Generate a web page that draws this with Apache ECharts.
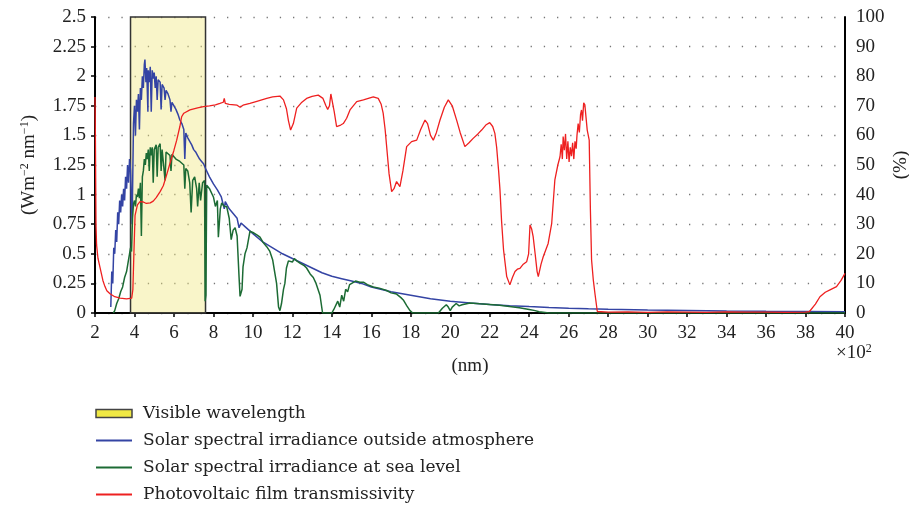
<!DOCTYPE html>
<html>
<head>
<meta charset="utf-8">
<script src="https://cdn.jsdelivr.net/npm/echarts@6/dist/echarts.min.js"></script>
<style>
    html, body { margin: 0; padding: 0; background: #fff; }
    #chart { width: 909px; height: 510px; }
</style>
</head>
<body>
<div id="chart"></div>
<script>
// wavelength in 10^2 nm
var visibleBand = [3.8, 7.6];

// solar spectral irradiance outside atmosphere (W m-2 nm-1)
var blueX = [2.8, 2.85, 2.9, 2.95, 3.0, 3.05, 3.1, 3.15, 3.2, 3.25, 3.3, 3.35, 3.4, 3.45, 3.5, 3.55, 3.6, 3.65, 3.7, 3.75, 3.8, 3.88,
    3.95, 4.0, 4.05, 4.1, 4.15, 4.2, 4.25, 4.3, 4.35, 4.4, 4.45, 4.5, 4.53, 4.58, 4.62, 4.68, 4.7, 4.75, 4.8, 4.85, 4.9, 4.95,
    5.0, 5.05, 5.1, 5.15, 5.2, 5.3, 5.35, 5.4, 5.5, 5.55, 5.6, 5.7, 5.8, 5.85, 5.9, 6.0, 6.1, 6.2, 6.3, 6.4, 6.5, 6.55, 6.6,
    6.7, 6.8, 6.9, 7.0, 7.1, 7.2, 7.3, 7.4, 7.5, 7.6, 7.8, 8.0, 8.2, 8.4, 8.55, 8.6, 8.8, 9.0, 9.2, 9.3, 9.4, 9.6, 9.8, 10.0,
    10.5, 11.0, 11.5, 12.0, 12.5, 13.0, 13.5, 14.0, 14.5, 15.0, 15.5, 16, 17, 18, 19, 20, 21, 22, 23, 24, 25, 26, 27, 28,
    30, 32, 34, 36, 38, 40];
var blueY = [0.05, 0.35, 0.25, 0.55, 0.5, 0.7, 0.6, 0.85, 0.75, 0.95, 0.85, 1.0, 0.9, 1.05, 0.95, 1.15, 1.05, 1.25, 1.1, 1.3, 1.2, 0.75,
    1.6, 1.75, 1.5, 1.8, 1.7, 1.85, 1.55, 1.9, 1.8, 2.0, 1.9, 2.1, 2.14, 1.95, 2.07, 1.7, 2.05, 1.95, 2.08, 1.7, 2.05, 1.98,
    2.03, 1.9, 2.0, 1.8, 1.97, 1.95, 1.72, 1.93, 1.9, 1.8, 1.88, 1.85, 1.8, 1.7, 1.78, 1.75, 1.72, 1.68, 1.63, 1.6, 1.55, 1.3, 1.52,
    1.48, 1.45, 1.42, 1.38, 1.36, 1.33, 1.3, 1.28, 1.26, 1.22, 1.15, 1.09, 1.04, 0.98, 0.88, 0.94, 0.88, 0.84, 0.8, 0.72, 0.76, 0.73, 0.7, 0.67,
    0.6, 0.55, 0.5, 0.46, 0.42, 0.38, 0.34, 0.31, 0.29, 0.27, 0.25, 0.22, 0.18, 0.15, 0.12, 0.1, 0.085, 0.072, 0.062, 0.054, 0.047, 0.041, 0.036, 0.032,
    0.026, 0.021, 0.017, 0.014, 0.012, 0.01];

// solar spectral irradiance at sea level (W m-2 nm-1)
var greenX = [2.93, 3.0, 3.1, 3.2, 3.3, 3.4, 3.5, 3.6, 3.7, 3.75, 3.8, 3.85, 3.9, 3.95, 4.0, 4.05, 4.1, 4.15, 4.2, 4.25, 4.3, 4.35,
    4.4, 4.45, 4.5, 4.55, 4.6, 4.65, 4.7, 4.75, 4.8, 4.85, 4.9, 4.95, 5.0, 5.1, 5.15, 5.2, 5.3, 5.35, 5.4, 5.5, 5.55, 5.6, 5.7,
    5.8, 5.85, 5.9, 6.0, 6.1, 6.2, 6.3, 6.4, 6.5, 6.55, 6.6, 6.7, 6.8, 6.87, 6.95, 7.05, 7.15, 7.2, 7.28, 7.35, 7.45, 7.55, 7.58,
    7.62, 7.66, 7.8, 8.0, 8.1, 8.2, 8.25, 8.35, 8.42, 8.55, 8.67, 8.8, 8.9, 9.0, 9.1, 9.2, 9.3, 9.35, 9.45, 9.5, 9.6, 9.7, 9.85,
    10.0, 10.2, 10.36, 10.5, 10.7, 10.86, 11.0, 11.1, 11.2, 11.3, 11.37, 11.45, 11.55, 11.62, 11.7, 11.8, 12.0, 12.1, 12.22, 12.4,
    12.6, 12.72, 12.9, 13.06, 13.2, 13.4, 13.53, 14.0, 14.1, 14.2, 14.3, 14.4, 14.5, 14.6, 14.7, 14.8, 14.9, 15.0, 15.2, 15.42,
    15.6, 15.8, 16.1, 16.4, 16.78, 17.0, 17.28, 17.5, 17.62, 17.8, 17.96, 18.1, 19.4, 19.6, 19.8, 19.9, 20.0, 20.1, 20.3, 20.45,
    20.6, 21.0, 21.5, 22.0, 22.5, 23.0, 23.5, 24.0, 24.3, 24.5, 25.0, 40];
var greenY = [0, 0.02, 0.08, 0.12, 0.18, 0.22, 0.3, 0.35, 0.45, 0.5, 0.55, 0.52, 0.8, 0.92, 0.95, 0.9, 1.0, 0.98, 1.05, 0.97, 1.1, 0.65,
    1.15, 1.2, 1.3, 1.25, 1.35, 1.3, 1.38, 1.2, 1.4, 1.33, 1.4, 1.1, 1.38, 1.42, 1.15, 1.4, 1.43, 1.2, 1.38, 1.37, 1.12, 1.36, 1.35,
    1.33, 1.2, 1.34, 1.32, 1.3, 1.3, 1.28, 1.27, 1.25, 1.05, 1.22, 1.2, 1.1, 0.85, 1.12, 1.15, 1.05, 0.9, 1.1, 0.95, 1.1, 1.12, 0.1,
    0.15, 1.08, 1.05, 0.98, 0.9, 0.95, 0.64, 0.88, 0.93, 0.9, 0.9, 0.8, 0.62, 0.7, 0.72, 0.65, 0.3, 0.14, 0.2, 0.39, 0.5, 0.55, 0.69,
    0.68, 0.66, 0.64, 0.6, 0.56, 0.52, 0.45, 0.35, 0.25, 0.05, 0.02, 0.08, 0.2, 0.25, 0.38, 0.44, 0.43, 0.46, 0.44, 0.42,
    0.4, 0.38, 0.33, 0.3, 0.25, 0.15, 0, 0, 0.03, 0.02, 0.1, 0.05, 0.15, 0.1, 0.2, 0.18, 0.24, 0.25, 0.27, 0.26,
    0.26, 0.24, 0.22, 0.21, 0.19, 0.17, 0.16, 0.13, 0.11, 0.06, 0.02, 0, 0, 0.04, 0.07, 0.05, 0.02, 0.05, 0.08, 0.06,
    0.07, 0.085, 0.078, 0.072, 0.065, 0.055, 0.045, 0.03, 0.02, 0.01, 0, 0];

// photovoltaic film transmissivity (%)
var redX = [2.0, 2.02, 2.05, 2.08, 2.15, 2.25, 2.4, 2.5, 2.6, 2.76, 3.0, 3.27, 3.6, 3.86, 3.92, 3.97, 4.03, 4.15, 4.28, 4.45, 4.6,
    4.8, 4.95, 5.1, 5.3, 5.46, 5.6, 5.8, 6.0, 6.14, 6.3, 6.39, 6.5, 6.81, 7.2, 7.49, 7.8, 8.1, 8.33, 8.5, 8.55, 8.6, 8.8, 9.2,
    9.35, 9.5, 9.85, 10.2, 10.7, 11.0, 11.37, 11.55, 11.7, 11.8, 11.91, 12.05, 12.22, 12.45, 12.72, 13.0, 13.31, 13.55, 13.7,
    13.79, 13.88, 13.95, 14.02, 14.12, 14.24, 14.33, 14.45, 14.58, 14.75, 14.92, 15.26, 15.6, 16.1, 16.35, 16.5, 16.6, 16.7,
    16.78, 16.9, 17.03, 17.15, 17.28, 17.45, 17.6, 17.79, 18.04, 18.3, 18.5, 18.72, 18.85, 19.0, 19.14, 19.3, 19.48, 19.7, 19.9,
    20.1, 20.33, 20.5, 20.74, 20.95, 21.16, 21.4, 21.59, 21.8, 22.0, 22.15, 22.26, 22.35, 22.45, 22.52, 22.6, 22.7, 22.86, 23.02,
    23.15, 23.28, 23.4, 23.53, 23.7, 23.87, 23.97, 24.04, 24.12, 24.2, 24.3, 24.4, 24.46, 24.6, 24.71, 24.96, 25.14, 25.3, 25.45,
    25.56, 25.62, 25.68, 25.72, 25.78, 25.84, 25.9, 25.96, 26.02, 26.08, 26.14, 26.2, 26.26, 26.32, 26.38, 26.42, 26.48, 26.54,
    26.6, 26.65, 26.7, 26.76, 26.82, 26.88, 26.94, 27.04, 27.1, 27.16, 27.25, 27.33, 27.45, 28, 29, 30, 31, 32, 33, 34, 35, 36,
    37, 38, 38.2, 38.5, 38.73, 39.0, 39.24, 39.57, 39.8, 40];
var redY = [73, 60, 30, 23, 18.5, 15.5, 11, 9, 7.5, 6.5, 5.5, 5.0, 4.8, 5.0, 8, 20, 33, 36.5, 37.6, 37.5, 37,
    37.2, 37.8, 39, 41, 43, 46, 50.6, 55, 58.4, 63, 66.3, 67.5, 68.6, 69.3, 69.7, 70, 70.3, 70.8, 71.2, 72.5, 70.8, 70.5, 70.2,
    69.5, 70.2, 70.8, 71.5, 72.5, 73, 73.3, 72, 69, 65, 61.8, 64, 69.2, 71, 72.5, 73.2, 73.6, 72.5, 70,
    68.8, 70, 74, 73.6, 68, 63, 62.5, 63.5, 64, 65.8, 68.6, 71.4, 72, 73, 72.5, 70.5, 67.5, 62,
    56, 47, 41, 42, 44.4, 42.7, 48, 56.2, 57.9, 58.4, 62, 65.2, 64, 60, 58.4, 61, 65.2, 69.5, 72,
    70, 65, 61, 56.2, 57.5, 59, 60.5, 61.8, 63.5, 64.3, 63, 60.7, 56, 48, 41.5, 31, 21.3, 12.3, 9.5,
    12, 14, 14.8, 15.1, 16.5, 17.3, 20, 29.7, 28.5, 25.8, 20, 14, 12.3, 16.5, 19, 23.5, 30.3, 45, 50,
    52.8, 57, 52, 59.6, 55, 60.5, 52, 58, 51, 56, 53, 57.5, 52, 58, 55.5, 60, 64, 61,
    67, 68.6, 65, 71, 70.3, 66, 61.8, 58.4, 35, 17.9, 11, 6.6, 0.5, 0.3, 0.4, 0.2, 0.4, 0.3, 0.2, 0.4, 0.3, 0.3,
    0.2, 0.3, 0.5, 3, 5.5, 7, 7.8, 8.9, 11, 13.4];

var serif = '"Liberation Serif", "DejaVu Serif", serif';
var legendFont = '"DejaVu Serif", serif';

function pairs(xs, ys) {
    var out = [];
    for (var i = 0; i < xs.length; i++) {
        out.push([xs[i], ys[i]]);
    }
    return out;
}

var myChart = echarts.init(document.getElementById('chart'), null, {renderer: 'canvas'});

var axisLineStyle = {show: true, lineStyle: {color: '#000', width: 2}};
var labelStyle = {color: '#222', fontSize: 19, fontFamily: serif};
var dotted = {show: true, lineStyle: {color: '#777', width: 1.3, type: [1.3, 11.9]}};
var hideDot = {opacity: 0};

var option = {
    animation: false,
    backgroundColor: '#fff',
    grid: {left: 95, right: 64, top: 17, bottom: 197, containLabel: false, outerBoundsMode: 'none'},
    legend: {
        orient: 'vertical',
        left: 90,
        top: 400,
        itemWidth: 36,
        itemHeight: 8,
        itemGap: 10,
        textStyle: {color: '#222', fontSize: 17, fontFamily: legendFont, padding: [0, 0, 0, 6]},
        data: [
            {name: 'Visible wavelength', icon: 'rect',
                itemStyle: {color: '#f0e944', borderColor: '#444', borderWidth: 1.5}},
            {name: 'Solar spectral irradiance outside atmosphere', itemStyle: hideDot},
            {name: 'Solar spectral irradiance at sea level', itemStyle: hideDot},
            {name: 'Photovoltaic film transmissivity', itemStyle: hideDot}
        ]
    },
    xAxis: {
        type: 'value',
        min: 2,
        max: 40,
        interval: 2,
        name: '(nm)',
        nameLocation: 'middle',
        nameGap: 44,
        nameMoveOverlap: false,
        nameTextStyle: labelStyle,
        axisLine: axisLineStyle,
        axisTick: {show: true, length: 4, lineStyle: {color: '#000', width: 1.5}},
        axisLabel: Object.assign({margin: 11}, labelStyle),
        splitLine: {show: false}
    },
    yAxis: [{
        type: 'value',
        min: 0,
        max: 2.5,
        interval: 0.25,
        position: 'left',
        name: '(Wm{sup|\u22122} nm{sup|\u22121})',
        nameLocation: 'middle',
        nameRotate: 90,
        nameGap: 56,
        nameMoveOverlap: false,
        nameTextStyle: {
            color: '#222', fontSize: 19, fontFamily: serif,
            rich: {sup: {fontSize: 12, fontFamily: serif, color: '#222', verticalAlign: 'top', padding: [0, 0, 8, 0]}}
        },
        axisLine: axisLineStyle,
        axisTick: {show: true, length: 4, lineStyle: {color: '#000', width: 1.5}},
        axisLabel: Object.assign({margin: 9}, labelStyle),
        splitLine: dotted
    }, {
        type: 'value',
        min: 0,
        max: 100,
        interval: 10,
        position: 'right',
        name: '(%)',
        nameLocation: 'middle',
        nameRotate: 90,
        nameGap: 47,
        nameMoveOverlap: false,
        nameTextStyle: labelStyle,
        axisLine: axisLineStyle,
        axisTick: {show: false},
        axisLabel: Object.assign({margin: 11}, labelStyle),
        splitLine: {show: false}
    }],
    graphic: [{
        type: 'text',
        left: 836,
        top: 343,
        style: {
            text: '\u00d710{s|2}',
            fill: '#222',
            font: '19px ' + serif,
            rich: {s: {fontSize: 12, fontFamily: serif, fill: '#222', verticalAlign: 'top', padding: [0, 0, 8, 0]}}
        }
    }],
    series: [{
        name: 'Visible wavelength',
        type: 'line',
        yAxisIndex: 0,
        data: [],
        symbol: 'none',
        itemStyle: {color: '#f0e944'},
        markArea: {
            silent: true,
            itemStyle: {color: 'rgba(240,230,120,0.4)', borderColor: '#333', borderWidth: 1.5},
            data: [[{xAxis: visibleBand[0], yAxis: 0}, {xAxis: visibleBand[1], yAxis: 2.5}]]
        },
        z: 1
    }, {
        name: 'Solar spectral irradiance outside atmosphere',
        type: 'line',
        yAxisIndex: 0,
        symbol: 'none',
        data: pairs(blueX, blueY),
        itemStyle: {color: '#3444a4'},
        lineStyle: {color: '#3444a4', width: 1.5},
        z: 3
    }, {
        name: 'Solar spectral irradiance at sea level',
        type: 'line',
        yAxisIndex: 0,
        symbol: 'none',
        data: pairs(greenX, greenY),
        itemStyle: {color: '#1c6b34'},
        lineStyle: {color: '#1c6b34', width: 1.5},
        z: 4
    }, {
        name: 'Photovoltaic film transmissivity',
        type: 'line',
        yAxisIndex: 1,
        symbol: 'none',
        data: pairs(redX, redY),
        itemStyle: {color: '#ee2020'},
        lineStyle: {color: '#ee2020', width: 1.3},
        z: 5
    }]
};

myChart.setOption(option);
</script>
</body>
</html>
